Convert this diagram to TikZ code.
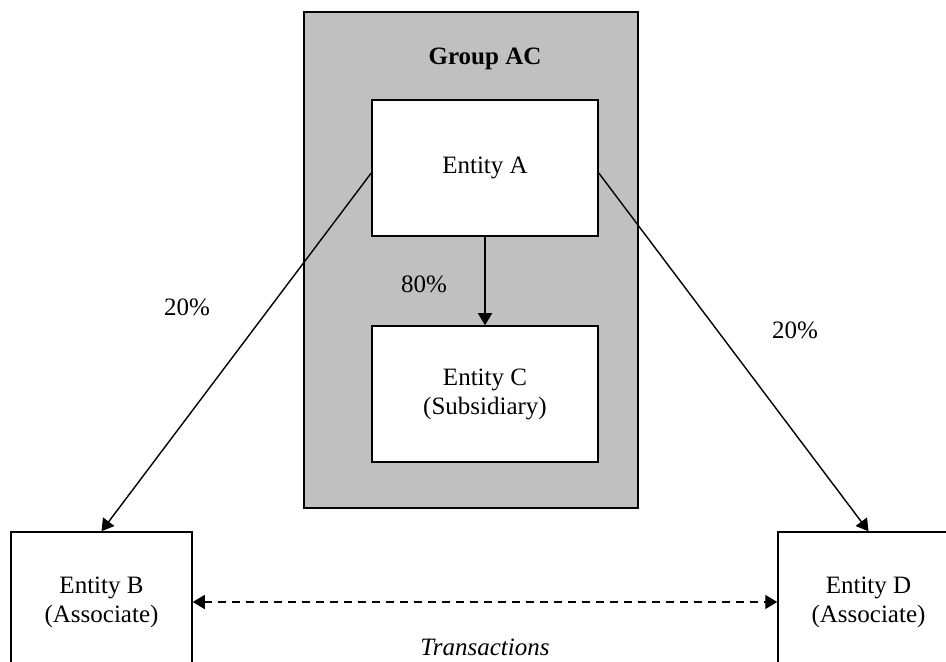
\documentclass[tikz,border=0pt]{standalone}
\usepackage{fontspec}
\setmainfont{Liberation Serif}
\usetikzlibrary{positioning, arrows.meta}
\definecolor{GroupGray}{RGB}{192,192,192}

\begin{document}
\begin{tikzpicture}[
          x=0.5pt, y=-0.5pt,
          every node/.style={font=\fontsize{12.5}{14.5}\selectfont},
          box/.style={rectangle, draw, line width=0.75pt, fill=white,
                      minimum width=113pt, minimum height=68pt, align=center},
          assoc/.style={box, minimum width=90.5pt, minimum height=70pt},
          arr/.style={-{Triangle[length=6pt, width=7pt]}, line width=0.7pt}
        ]
        \useasboundingbox (0,0) rectangle (946,662);
        \node[draw, line width=0.75pt, fill=GroupGray, minimum width=167pt,
              minimum height=248pt] (grp) at (471, 260) {};
        \node[font=\fontsize{12.5}{14.5}\selectfont\bfseries] (grplbl) at (485, 59) {Group AC};
        \node[box] (entA) at (485, 168) {Entity A};
        \node[box] (entC) at (485, 394) {Entity C\\(Subsidiary)};
        \node[assoc] (entB) at (101.5, 602) {Entity B\\(Associate)};
        \node[assoc] (entD) at (868.5, 602) {Entity D\\(Associate)};

        \draw[arr] (entA.south) -- (entC.north);
        \draw[arr] ([yshift=-2.5pt]entA.west) -- (entB.north);
        \draw[arr] ([yshift=-2.5pt]entA.east) -- (entD.north);
        \draw[arr, {Triangle[length=6pt, width=7pt]}-{Triangle[length=6pt, width=7pt]},
              dashed, dash pattern=on 4pt off 3pt] (entB.east) -- (entD.west);

        \node (pctC) at (424, 284) {80\%};
        \node (pctB) at (187, 307) {20\%};
        \node (pctD) at (795, 330) {20\%};
        \node[font=\fontsize{12.5}{14.5}\selectfont\itshape] (trans) at (485, 647) {Transactions};
      \end{tikzpicture}
\end{document}
